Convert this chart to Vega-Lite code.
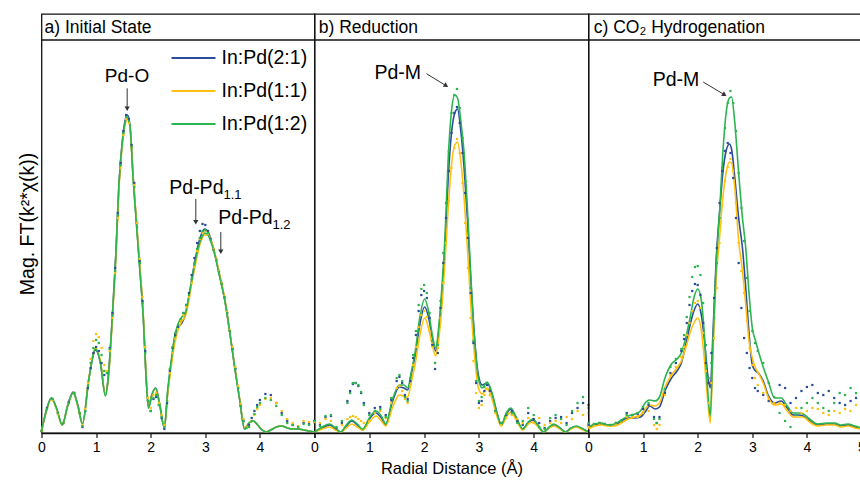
{
  "$schema": "https://vega.github.io/schema/vega-lite/v6.json",
  "padding": {"left": 16.5, "top": 13, "right": 0, "bottom": 0},
  "spacing": 0,
  "bounds": "flush",
  "config": {
    "font": "Liberation Sans",
    "view": {"stroke": "#111111", "strokeWidth": 1.3},
    "axis": {"grid": false, "domainColor": "#111111", "domainWidth": 1.3, "tickColor": "#111111", "tickWidth": 1.2, "labelColor": "#000000", "titleColor": "#000000", "titleFontWeight": "normal", "labelFont": "Liberation Sans", "titleFont": "Liberation Sans"},
    "text": {"font": "Liberation Sans", "color": "#000000"},
    "legend": {"padding": 0}
  },
  "resolve": {"scale": {"color": "independent"}, "legend": {"color": "independent"}},
  "datasets": {
    "a_fit": [
      {"r":0,"p21":0.02,"p11":0.02,"p12":0.02},
      {"r":0.09,"p21":0.23,"p11":0.22,"p12":0.22},
      {"r":0.18,"p21":0.35,"p11":0.34,"p12":0.35},
      {"r":0.28,"p21":0.24,"p11":0.23,"p12":0.24},
      {"r":0.38,"p21":0.08,"p11":0.08,"p12":0.08},
      {"r":0.48,"p21":0.28,"p11":0.27,"p12":0.27},
      {"r":0.58,"p21":0.41,"p11":0.4,"p12":0.4},
      {"r":0.67,"p21":0.27,"p11":0.26,"p12":0.26},
      {"r":0.75,"p21":0.09,"p11":0.09,"p12":0.09},
      {"r":0.87,"p21":0.55,"p11":0.56,"p12":0.55},
      {"r":0.99,"p21":0.83,"p11":0.85,"p12":0.84},
      {"r":1.08,"p21":0.7,"p11":0.72,"p12":0.7},
      {"r":1.17,"p21":0.38,"p11":0.38,"p12":0.37},
      {"r":1.22,"p21":0.55,"p11":0.52,"p12":0.53},
      {"r":1.3,"p21":1.19,"p11":1.15,"p12":1.19},
      {"r":1.36,"p21":1.78,"p11":1.72,"p12":1.75},
      {"r":1.42,"p21":2.5,"p11":2.45,"p12":2.5},
      {"r":1.48,"p21":2.92,"p11":2.88,"p12":2.9},
      {"r":1.53,"p21":3.12,"p11":3.08,"p12":3.1},
      {"r":1.575,"p21":3.18,"p11":3.14,"p12":3.16},
      {"r":1.62,"p21":3.08,"p11":3.06,"p12":3.07},
      {"r":1.68,"p21":2.55,"p11":2.55,"p12":2.52},
      {"r":1.74,"p21":2.1,"p11":2.12,"p12":2.08},
      {"r":1.8,"p21":1.65,"p11":1.68,"p12":1.63},
      {"r":1.86,"p21":1.2,"p11":1.22,"p12":1.19},
      {"r":1.92,"p21":0.52,"p11":0.55,"p12":0.52},
      {"r":1.96,"p21":0.25,"p11":0.27,"p12":0.25},
      {"r":2.02,"p21":0.38,"p11":0.38,"p12":0.38},
      {"r":2.09,"p21":0.45,"p11":0.44,"p12":0.45},
      {"r":2.16,"p21":0.3,"p11":0.3,"p12":0.3},
      {"r":2.25,"p21":0.05,"p11":0.06,"p12":0.05},
      {"r":2.31,"p21":0.4,"p11":0.38,"p12":0.42},
      {"r":2.38,"p21":0.72,"p11":0.68,"p12":0.74},
      {"r":2.44,"p21":0.95,"p11":0.9,"p12":0.97},
      {"r":2.5,"p21":1.05,"p11":1.03,"p12":1.09},
      {"r":2.57,"p21":1.1,"p11":1.12,"p12":1.16},
      {"r":2.63,"p21":1.17,"p11":1.16,"p12":1.19},
      {"r":2.69,"p21":1.33,"p11":1.3,"p12":1.34},
      {"r":2.75,"p21":1.53,"p11":1.49,"p12":1.52},
      {"r":2.81,"p21":1.72,"p11":1.66,"p12":1.7},
      {"r":2.87,"p21":1.88,"p11":1.82,"p12":1.85},
      {"r":2.93,"p21":1.99,"p11":1.93,"p12":1.95},
      {"r":2.99,"p21":2.04,"p11":1.98,"p12":2.0},
      {"r":3.05,"p21":2.01,"p11":1.98,"p12":1.98},
      {"r":3.11,"p21":1.92,"p11":1.92,"p12":1.9},
      {"r":3.17,"p21":1.8,"p11":1.81,"p12":1.79},
      {"r":3.26,"p21":1.58,"p11":1.59,"p12":1.57},
      {"r":3.36,"p21":1.32,"p11":1.33,"p12":1.32},
      {"r":3.45,"p21":1.0,"p11":1.0,"p12":1.0},
      {"r":3.54,"p21":0.65,"p11":0.66,"p12":0.65},
      {"r":3.63,"p21":0.33,"p11":0.34,"p12":0.33},
      {"r":3.72,"p21":0.04,"p11":0.05,"p12":0.04},
      {"r":3.8,"p21":0.1,"p11":0.1,"p12":0.1},
      {"r":3.88,"p21":0.12,"p11":0.12,"p12":0.12},
      {"r":3.96,"p21":0.08,"p11":0.08,"p12":0.08},
      {"r":4.04,"p21":0.03,"p11":0.03,"p12":0.03},
      {"r":4.12,"p21":0.01,"p11":0.01,"p12":0.01},
      {"r":4.2,"p21":0.03,"p11":0.03,"p12":0.03},
      {"r":4.3,"p21":0.06,"p11":0.06,"p12":0.06},
      {"r":4.4,"p21":0.07,"p11":0.07,"p12":0.07},
      {"r":4.5,"p21":0.05,"p11":0.05,"p12":0.05},
      {"r":4.6,"p21":0.04,"p11":0.04,"p12":0.04},
      {"r":4.7,"p21":0.04,"p11":0.04,"p12":0.04},
      {"r":4.8,"p21":0.03,"p11":0.03,"p12":0.03},
      {"r":4.9,"p21":0.02,"p11":0.02,"p12":0.02},
      {"r":5.0,"p21":0.01,"p11":0.01,"p12":0.01}
    ],
    "a_pts": [
      {"r":0,"p21":0.02,"p11":0.02,"p12":0.02},
      {"r":0.1,"p21":0.25,"p11":0.24,"p12":0.24},
      {"r":0.2,"p21":0.34,"p11":0.33,"p12":0.34},
      {"r":0.3,"p21":0.2,"p11":0.19,"p12":0.2},
      {"r":0.4,"p21":0.1,"p11":0.1,"p12":0.1},
      {"r":0.5,"p21":0.31,"p11":0.3,"p12":0.3},
      {"r":0.6,"p21":0.4,"p11":0.4,"p12":0.4},
      {"r":0.7,"p21":0.2,"p11":0.2,"p12":0.2},
      {"r":0.75,"p21":0.06,"p11":0.08,"p12":0.07},
      {"r":0.8,"p21":0.22,"p11":0.24,"p12":0.22},
      {"r":0.85,"p21":0.45,"p11":0.5,"p12":0.47},
      {"r":0.9,"p21":0.65,"p11":0.74,"p12":0.7},
      {"r":0.95,"p21":0.8,"p11":0.92,"p12":0.85},
      {"r":1.0,"p21":0.86,"p11":0.99,"p12":0.93},
      {"r":1.05,"p21":0.82,"p11":0.96,"p12":0.9},
      {"r":1.1,"p21":0.7,"p11":0.85,"p12":0.78},
      {"r":1.15,"p21":0.58,"p11":0.68,"p12":0.62},
      {"r":1.2,"p21":0.6,"p11":0.62,"p12":0.6},
      {"r":1.25,"p21":0.85,"p11":0.82,"p12":0.84},
      {"r":1.3,"p21":1.2,"p11":1.15,"p12":1.18},
      {"r":1.35,"p21":1.65,"p11":1.6,"p12":1.62},
      {"r":1.4,"p21":2.2,"p11":2.15,"p12":2.18},
      {"r":1.45,"p21":2.7,"p11":2.65,"p12":2.68},
      {"r":1.5,"p21":3.02,"p11":2.98,"p12":3.0},
      {"r":1.55,"p21":3.18,"p11":3.14,"p12":3.16},
      {"r":1.6,"p21":3.14,"p11":3.1,"p12":3.12},
      {"r":1.65,"p21":2.88,"p11":2.86,"p12":2.86},
      {"r":1.7,"p21":2.5,"p11":2.48,"p12":2.46},
      {"r":1.75,"p21":2.1,"p11":2.1,"p12":2.06},
      {"r":1.8,"p21":1.72,"p11":1.74,"p12":1.7},
      {"r":1.85,"p21":1.32,"p11":1.36,"p12":1.3},
      {"r":1.9,"p21":0.82,"p11":0.86,"p12":0.8},
      {"r":1.95,"p21":0.32,"p11":0.35,"p12":0.32},
      {"r":2.0,"p21":0.22,"p11":0.25,"p12":0.22},
      {"r":2.05,"p21":0.34,"p11":0.38,"p12":0.35},
      {"r":2.1,"p21":0.36,"p11":0.4,"p12":0.38},
      {"r":2.15,"p21":0.28,"p11":0.3,"p12":0.28},
      {"r":2.2,"p21":0.15,"p11":0.18,"p12":0.16},
      {"r":2.25,"p21":0.04,"p11":0.08,"p12":0.06},
      {"r":2.3,"p21":0.3,"p11":0.32,"p12":0.32},
      {"r":2.35,"p21":0.62,"p11":0.6,"p12":0.64},
      {"r":2.4,"p21":0.85,"p11":0.8,"p12":0.86},
      {"r":2.45,"p21":0.98,"p11":0.94,"p12":1.0},
      {"r":2.5,"p21":1.06,"p11":1.04,"p12":1.08},
      {"r":2.55,"p21":1.12,"p11":1.12,"p12":1.14},
      {"r":2.6,"p21":1.2,"p11":1.18,"p12":1.2},
      {"r":2.65,"p21":1.28,"p11":1.26,"p12":1.28},
      {"r":2.7,"p21":1.4,"p11":1.36,"p12":1.38},
      {"r":2.75,"p21":1.58,"p11":1.5,"p12":1.54},
      {"r":2.8,"p21":1.75,"p11":1.66,"p12":1.7},
      {"r":2.85,"p21":1.9,"p11":1.82,"p12":1.84},
      {"r":2.9,"p21":2.02,"p11":1.94,"p12":1.95},
      {"r":2.95,"p21":2.09,"p11":2.0,"p12":2.02},
      {"r":3.0,"p21":2.08,"p11":2.02,"p12":2.03},
      {"r":3.05,"p21":2.02,"p11":1.99,"p12":2.0},
      {"r":3.1,"p21":1.94,"p11":1.93,"p12":1.93},
      {"r":3.15,"p21":1.84,"p11":1.84,"p12":1.83},
      {"r":3.2,"p21":1.74,"p11":1.74,"p12":1.73},
      {"r":3.25,"p21":1.62,"p11":1.62,"p12":1.61},
      {"r":3.3,"p21":1.5,"p11":1.5,"p12":1.49},
      {"r":3.35,"p21":1.36,"p11":1.37,"p12":1.36},
      {"r":3.4,"p21":1.2,"p11":1.21,"p12":1.2},
      {"r":3.45,"p21":1.02,"p11":1.03,"p12":1.02},
      {"r":3.5,"p21":0.84,"p11":0.86,"p12":0.84},
      {"r":3.55,"p21":0.64,"p11":0.66,"p12":0.64},
      {"r":3.6,"p21":0.45,"p11":0.47,"p12":0.45},
      {"r":3.65,"p21":0.27,"p11":0.29,"p12":0.27},
      {"r":3.7,"p21":0.12,"p11":0.14,"p12":0.12},
      {"r":3.75,"p21":0.05,"p11":0.06,"p12":0.05},
      {"r":3.8,"p21":0.08,"p11":0.06,"p12":0.06},
      {"r":3.85,"p21":0.15,"p11":0.12,"p12":0.12},
      {"r":3.9,"p21":0.22,"p11":0.18,"p12":0.19},
      {"r":3.95,"p21":0.28,"p11":0.24,"p12":0.26},
      {"r":4.0,"p21":0.33,"p11":0.28,"p12":0.3},
      {"r":4.1,"p21":0.39,"p11":0.34,"p12":0.35},
      {"r":4.2,"p21":0.38,"p11":0.35,"p12":0.33},
      {"r":4.3,"p21":0.3,"p11":0.3,"p12":0.27},
      {"r":4.4,"p21":0.2,"p11":0.22,"p12":0.18},
      {"r":4.5,"p21":0.12,"p11":0.14,"p12":0.1},
      {"r":4.6,"p21":0.08,"p11":0.1,"p12":0.08},
      {"r":4.7,"p21":0.06,"p11":0.07,"p12":0.06},
      {"r":4.8,"p21":0.1,"p11":0.12,"p12":0.09},
      {"r":4.9,"p21":0.09,"p11":0.11,"p12":0.08},
      {"r":5.0,"p21":0.12,"p11":0.1,"p12":0.11}
    ],
    "b_fit": [
      {"r":0,"p21":0.01,"p11":0.01,"p12":0.01},
      {"r":0.14,"p21":0.05,"p11":0.04,"p12":0.06},
      {"r":0.28,"p21":0.08,"p11":0.06,"p12":0.09},
      {"r":0.38,"p21":0.04,"p11":0.03,"p12":0.05},
      {"r":0.48,"p21":0.01,"p11":0.01,"p12":0.01},
      {"r":0.58,"p21":0.07,"p11":0.05,"p12":0.08},
      {"r":0.68,"p21":0.12,"p11":0.09,"p12":0.13},
      {"r":0.78,"p21":0.08,"p11":0.06,"p12":0.09},
      {"r":0.88,"p21":0.03,"p11":0.03,"p12":0.04},
      {"r":1.0,"p21":0.14,"p11":0.11,"p12":0.15},
      {"r":1.12,"p21":0.2,"p11":0.17,"p12":0.22},
      {"r":1.22,"p21":0.15,"p11":0.12,"p12":0.17},
      {"r":1.3,"p21":0.08,"p11":0.07,"p12":0.09},
      {"r":1.42,"p21":0.31,"p11":0.25,"p12":0.33},
      {"r":1.55,"p21":0.46,"p11":0.38,"p12":0.48},
      {"r":1.63,"p21":0.45,"p11":0.37,"p12":0.48},
      {"r":1.7,"p21":0.43,"p11":0.36,"p12":0.45},
      {"r":1.77,"p21":0.6,"p11":0.52,"p12":0.62},
      {"r":1.84,"p21":0.78,"p11":0.7,"p12":0.82},
      {"r":1.92,"p21":1.08,"p11":0.97,"p12":1.15},
      {"r":2.01,"p21":1.26,"p11":1.15,"p12":1.34},
      {"r":2.08,"p21":1.16,"p11":1.05,"p12":1.22},
      {"r":2.15,"p21":0.95,"p11":0.88,"p12":0.98},
      {"r":2.21,"p21":0.82,"p11":0.77,"p12":0.85},
      {"r":2.27,"p21":1.02,"p11":0.95,"p12":1.08},
      {"r":2.33,"p21":1.42,"p11":1.3,"p12":1.5},
      {"r":2.38,"p21":1.85,"p11":1.7,"p12":1.95},
      {"r":2.44,"p21":2.55,"p11":2.25,"p12":2.75},
      {"r":2.5,"p21":3.0,"p11":2.68,"p12":3.22},
      {"r":2.56,"p21":3.2,"p11":2.88,"p12":3.38},
      {"r":2.61,"p21":3.24,"p11":2.91,"p12":3.35},
      {"r":2.67,"p21":3.02,"p11":2.72,"p12":3.12},
      {"r":2.73,"p21":2.65,"p11":2.35,"p12":2.8},
      {"r":2.79,"p21":2.15,"p11":1.85,"p12":2.25},
      {"r":2.85,"p21":1.55,"p11":1.3,"p12":1.6},
      {"r":2.92,"p21":0.95,"p11":0.78,"p12":0.95},
      {"r":2.99,"p21":0.58,"p11":0.45,"p12":0.55},
      {"r":3.06,"p21":0.48,"p11":0.39,"p12":0.45},
      {"r":3.15,"p21":0.5,"p11":0.45,"p12":0.51},
      {"r":3.25,"p21":0.37,"p11":0.32,"p12":0.38},
      {"r":3.33,"p21":0.2,"p11":0.17,"p12":0.2},
      {"r":3.41,"p21":0.08,"p11":0.07,"p12":0.08},
      {"r":3.5,"p21":0.19,"p11":0.16,"p12":0.2},
      {"r":3.58,"p21":0.24,"p11":0.21,"p12":0.25},
      {"r":3.68,"p21":0.15,"p11":0.13,"p12":0.16},
      {"r":3.8,"p21":0.04,"p11":0.03,"p12":0.04},
      {"r":3.9,"p21":0.1,"p11":0.09,"p12":0.11},
      {"r":3.98,"p21":0.13,"p11":0.11,"p12":0.14},
      {"r":4.08,"p21":0.07,"p11":0.06,"p12":0.08},
      {"r":4.18,"p21":0.01,"p11":0.01,"p12":0.01},
      {"r":4.28,"p21":0.05,"p11":0.05,"p12":0.06},
      {"r":4.37,"p21":0.08,"p11":0.07,"p12":0.09},
      {"r":4.48,"p21":0.05,"p11":0.04,"p12":0.05},
      {"r":4.58,"p21":0.01,"p11":0.01,"p12":0.01},
      {"r":4.68,"p21":0.05,"p11":0.04,"p12":0.05},
      {"r":4.78,"p21":0.06,"p11":0.06,"p12":0.07},
      {"r":4.9,"p21":0.04,"p11":0.03,"p12":0.04},
      {"r":5.0,"p21":0.01,"p11":0.01,"p12":0.01}
    ],
    "b_pts": [
      {"r":0,"p21":0.12,"p11":0.11,"p12":0.12},
      {"r":0.1,"p21":0.08,"p11":0.1,"p12":0.07},
      {"r":0.2,"p21":0.16,"p11":0.14,"p12":0.17},
      {"r":0.3,"p21":0.17,"p11":0.12,"p12":0.18},
      {"r":0.4,"p21":0.05,"p11":0.06,"p12":0.06},
      {"r":0.5,"p21":0.1,"p11":0.08,"p12":0.12},
      {"r":0.6,"p21":0.32,"p11":0.14,"p12":0.3},
      {"r":0.65,"p21":0.42,"p11":0.16,"p12":0.4},
      {"r":0.7,"p21":0.49,"p11":0.17,"p12":0.5},
      {"r":0.75,"p21":0.5,"p11":0.16,"p12":0.5},
      {"r":0.8,"p21":0.47,"p11":0.14,"p12":0.48},
      {"r":0.85,"p21":0.4,"p11":0.12,"p12":0.41},
      {"r":0.9,"p21":0.3,"p11":0.1,"p12":0.28},
      {"r":1.0,"p21":0.2,"p11":0.12,"p12":0.18},
      {"r":1.1,"p21":0.25,"p11":0.2,"p12":0.22},
      {"r":1.2,"p21":0.26,"p11":0.22,"p12":0.24},
      {"r":1.3,"p21":0.18,"p11":0.15,"p12":0.16},
      {"r":1.4,"p21":0.33,"p11":0.3,"p12":0.35},
      {"r":1.5,"p21":0.52,"p11":0.45,"p12":0.55},
      {"r":1.55,"p21":0.56,"p11":0.47,"p12":0.58},
      {"r":1.6,"p21":0.5,"p11":0.42,"p12":0.52},
      {"r":1.65,"p21":0.38,"p11":0.34,"p12":0.36},
      {"r":1.7,"p21":0.34,"p11":0.3,"p12":0.32},
      {"r":1.75,"p21":0.52,"p11":0.48,"p12":0.55},
      {"r":1.8,"p21":0.75,"p11":0.68,"p12":0.78},
      {"r":1.85,"p21":0.98,"p11":0.86,"p12":1.02},
      {"r":1.9,"p21":1.22,"p11":1.06,"p12":1.28},
      {"r":1.95,"p21":1.38,"p11":1.18,"p12":1.44},
      {"r":2.0,"p21":1.42,"p11":1.22,"p12":1.48},
      {"r":2.05,"p21":1.35,"p11":1.16,"p12":1.4},
      {"r":2.1,"p21":1.15,"p11":1.02,"p12":1.2},
      {"r":2.15,"p21":0.88,"p11":0.86,"p12":0.92},
      {"r":2.2,"p21":0.64,"p11":0.7,"p12":0.7},
      {"r":2.25,"p21":0.8,"p11":0.85,"p12":0.88},
      {"r":2.3,"p21":1.25,"p11":1.15,"p12":1.32},
      {"r":2.35,"p21":1.7,"p11":1.5,"p12":1.8},
      {"r":2.4,"p21":2.15,"p11":1.9,"p12":2.3},
      {"r":2.45,"p21":2.62,"p11":2.32,"p12":2.82},
      {"r":2.5,"p21":3.0,"p11":2.65,"p12":3.2},
      {"r":2.55,"p21":3.2,"p11":2.85,"p12":3.38},
      {"r":2.6,"p21":3.26,"p11":2.94,"p12":3.44},
      {"r":2.65,"p21":3.1,"p11":2.8,"p12":3.25},
      {"r":2.7,"p21":2.8,"p11":2.5,"p12":2.95},
      {"r":2.75,"p21":2.4,"p11":2.1,"p12":2.52},
      {"r":2.8,"p21":1.95,"p11":1.65,"p12":2.02},
      {"r":2.85,"p21":1.4,"p11":1.15,"p12":1.45},
      {"r":2.9,"p21":0.9,"p11":0.72,"p12":0.92},
      {"r":2.95,"p21":0.5,"p11":0.4,"p12":0.52},
      {"r":3.0,"p21":0.3,"p11":0.25,"p12":0.32},
      {"r":3.05,"p21":0.32,"p11":0.28,"p12":0.36},
      {"r":3.1,"p21":0.42,"p11":0.38,"p12":0.46},
      {"r":3.15,"p21":0.48,"p11":0.44,"p12":0.5},
      {"r":3.2,"p21":0.42,"p11":0.38,"p12":0.44},
      {"r":3.3,"p21":0.22,"p11":0.2,"p12":0.22},
      {"r":3.4,"p21":0.1,"p11":0.08,"p12":0.1},
      {"r":3.5,"p21":0.18,"p11":0.15,"p12":0.19},
      {"r":3.6,"p21":0.22,"p11":0.18,"p12":0.2},
      {"r":3.7,"p21":0.12,"p11":0.14,"p12":0.1},
      {"r":3.8,"p21":0.08,"p11":0.1,"p12":0.12},
      {"r":3.9,"p21":0.2,"p11":0.15,"p12":0.25},
      {"r":4.0,"p21":0.14,"p11":0.1,"p12":0.18},
      {"r":4.1,"p21":0.1,"p11":0.15,"p12":0.06},
      {"r":4.2,"p21":0.05,"p11":0.08,"p12":0.04},
      {"r":4.3,"p21":0.12,"p11":0.1,"p12":0.15},
      {"r":4.4,"p21":0.15,"p11":0.12,"p12":0.18},
      {"r":4.5,"p21":0.16,"p11":0.1,"p12":0.14},
      {"r":4.6,"p21":0.1,"p11":0.16,"p12":0.08},
      {"r":4.7,"p21":0.2,"p11":0.14,"p12":0.22},
      {"r":4.8,"p21":0.25,"p11":0.22,"p12":0.3},
      {"r":4.9,"p21":0.3,"p11":0.18,"p12":0.36},
      {"r":5.0,"p21":0.28,"p11":0.2,"p12":0.25}
    ],
    "c_fit": [
      {"r":0,"p21":0.05,"p11":0.04,"p12":0.06},
      {"r":0.12,"p21":0.08,"p11":0.07,"p12":0.09},
      {"r":0.24,"p21":0.09,"p11":0.08,"p12":0.1},
      {"r":0.36,"p21":0.08,"p11":0.07,"p12":0.08},
      {"r":0.48,"p21":0.08,"p11":0.07,"p12":0.09},
      {"r":0.6,"p21":0.12,"p11":0.1,"p12":0.13},
      {"r":0.73,"p21":0.15,"p11":0.14,"p12":0.17},
      {"r":0.85,"p21":0.15,"p11":0.16,"p12":0.19},
      {"r":0.95,"p21":0.16,"p11":0.18,"p12":0.22},
      {"r":1.05,"p21":0.22,"p11":0.25,"p12":0.31},
      {"r":1.12,"p21":0.27,"p11":0.28,"p12":0.33},
      {"r":1.22,"p21":0.24,"p11":0.27,"p12":0.32},
      {"r":1.3,"p21":0.26,"p11":0.3,"p12":0.36},
      {"r":1.4,"p21":0.42,"p11":0.46,"p12":0.55},
      {"r":1.52,"p21":0.55,"p11":0.58,"p12":0.69},
      {"r":1.62,"p21":0.62,"p11":0.65,"p12":0.74},
      {"r":1.7,"p21":0.7,"p11":0.72,"p12":0.8},
      {"r":1.78,"p21":0.88,"p11":0.85,"p12":0.95},
      {"r":1.86,"p21":1.08,"p11":1.0,"p12":1.15},
      {"r":1.93,"p21":1.22,"p11":1.1,"p12":1.35},
      {"r":2.0,"p21":1.29,"p11":1.15,"p12":1.44},
      {"r":2.06,"p21":1.2,"p11":1.05,"p12":1.35},
      {"r":2.12,"p21":0.95,"p11":0.75,"p12":1.0},
      {"r":2.18,"p21":0.6,"p11":0.35,"p12":0.45},
      {"r":2.23,"p21":0.45,"p11":0.1,"p12":0.17},
      {"r":2.28,"p21":1.0,"p11":0.8,"p12":0.9},
      {"r":2.34,"p21":1.75,"p11":1.55,"p12":1.7},
      {"r":2.4,"p21":2.2,"p11":1.95,"p12":2.2},
      {"r":2.46,"p21":2.6,"p11":2.35,"p12":2.8},
      {"r":2.52,"p21":2.82,"p11":2.6,"p12":3.2},
      {"r":2.58,"p21":2.89,"p11":2.71,"p12":3.35},
      {"r":2.62,"p21":2.84,"p11":2.7,"p12":3.36},
      {"r":2.68,"p21":2.55,"p11":2.45,"p12":3.1},
      {"r":2.75,"p21":2.15,"p11":1.92,"p12":2.6},
      {"r":2.82,"p21":1.85,"p11":1.62,"p12":2.15},
      {"r":2.88,"p21":1.45,"p11":1.28,"p12":1.85},
      {"r":2.94,"p21":1.0,"p11":0.92,"p12":1.4},
      {"r":3.0,"p21":0.68,"p11":0.75,"p12":1.05},
      {"r":3.06,"p21":0.62,"p11":0.65,"p12":0.92},
      {"r":3.11,"p21":0.6,"p11":0.6,"p12":0.82},
      {"r":3.2,"p21":0.52,"p11":0.5,"p12":0.66},
      {"r":3.29,"p21":0.38,"p11":0.36,"p12":0.52},
      {"r":3.41,"p21":0.3,"p11":0.28,"p12":0.35},
      {"r":3.53,"p21":0.32,"p11":0.29,"p12":0.35},
      {"r":3.64,"p21":0.25,"p11":0.22,"p12":0.27},
      {"r":3.75,"p21":0.18,"p11":0.16,"p12":0.2},
      {"r":3.84,"p21":0.18,"p11":0.16,"p12":0.2},
      {"r":3.93,"p21":0.17,"p11":0.16,"p12":0.19},
      {"r":4.05,"p21":0.12,"p11":0.11,"p12":0.14},
      {"r":4.2,"p21":0.08,"p11":0.07,"p12":0.09},
      {"r":4.35,"p21":0.09,"p11":0.08,"p12":0.1},
      {"r":4.51,"p21":0.09,"p11":0.08,"p12":0.1},
      {"r":4.62,"p21":0.07,"p11":0.06,"p12":0.08},
      {"r":4.75,"p21":0.08,"p11":0.07,"p12":0.09},
      {"r":4.88,"p21":0.06,"p11":0.05,"p12":0.07},
      {"r":5.0,"p21":0.04,"p11":0.04,"p12":0.05}
    ],
    "c_pts": [
      {"r":0,"p21":0.08,"p11":0.06,"p12":0.1},
      {"r":0.1,"p21":0.09,"p11":0.08,"p12":0.09},
      {"r":0.2,"p21":0.1,"p11":0.09,"p12":0.1},
      {"r":0.3,"p21":0.09,"p11":0.08,"p12":0.09},
      {"r":0.4,"p21":0.08,"p11":0.07,"p12":0.08},
      {"r":0.5,"p21":0.1,"p11":0.09,"p12":0.1},
      {"r":0.6,"p21":0.12,"p11":0.11,"p12":0.12},
      {"r":0.7,"p21":0.2,"p11":0.16,"p12":0.18},
      {"r":0.8,"p21":0.18,"p11":0.16,"p12":0.18},
      {"r":0.9,"p21":0.19,"p11":0.16,"p12":0.2},
      {"r":1.0,"p21":0.24,"p11":0.2,"p12":0.26},
      {"r":1.1,"p21":0.28,"p11":0.22,"p12":0.3},
      {"r":1.2,"p21":0.16,"p11":0.08,"p12":0.14},
      {"r":1.25,"p21":0.1,"p11":0.04,"p12":0.1},
      {"r":1.3,"p21":0.16,"p11":0.08,"p12":0.14},
      {"r":1.4,"p21":0.4,"p11":0.38,"p12":0.44},
      {"r":1.5,"p21":0.6,"p11":0.58,"p12":0.66},
      {"r":1.6,"p21":0.7,"p11":0.66,"p12":0.74},
      {"r":1.7,"p21":0.82,"p11":0.76,"p12":0.84},
      {"r":1.75,"p21":0.94,"p11":0.86,"p12":0.98},
      {"r":1.8,"p21":1.1,"p11":0.98,"p12":1.16},
      {"r":1.85,"p21":1.28,"p11":1.1,"p12":1.36},
      {"r":1.9,"p21":1.42,"p11":1.22,"p12":1.56},
      {"r":1.95,"p21":1.49,"p11":1.3,"p12":1.66},
      {"r":2.0,"p21":1.48,"p11":1.32,"p12":1.67},
      {"r":2.05,"p21":1.38,"p11":1.25,"p12":1.58},
      {"r":2.1,"p21":1.1,"p11":1.0,"p12":1.3},
      {"r":2.15,"p21":0.7,"p11":0.62,"p12":0.88},
      {"r":2.2,"p21":0.5,"p11":0.3,"p12":0.55},
      {"r":2.25,"p21":0.8,"p11":0.5,"p12":0.7},
      {"r":2.3,"p21":1.35,"p11":0.95,"p12":1.15},
      {"r":2.35,"p21":1.85,"p11":1.45,"p12":1.7},
      {"r":2.4,"p21":2.3,"p11":1.9,"p12":2.15},
      {"r":2.45,"p21":2.62,"p11":2.28,"p12":2.65},
      {"r":2.5,"p21":2.82,"p11":2.52,"p12":3.05},
      {"r":2.55,"p21":2.9,"p11":2.66,"p12":3.3},
      {"r":2.6,"p21":2.8,"p11":2.74,"p12":3.42},
      {"r":2.65,"p21":2.55,"p11":2.62,"p12":3.3},
      {"r":2.7,"p21":2.15,"p11":2.3,"p12":3.02},
      {"r":2.75,"p21":1.7,"p11":1.9,"p12":2.6},
      {"r":2.8,"p21":1.25,"p11":1.62,"p12":2.25},
      {"r":2.85,"p21":0.95,"p11":1.4,"p12":1.92},
      {"r":2.9,"p21":0.8,"p11":1.12,"p12":1.55},
      {"r":2.95,"p21":0.65,"p11":0.85,"p12":1.22},
      {"r":3.0,"p21":0.55,"p11":0.68,"p12":1.02},
      {"r":3.05,"p21":0.45,"p11":0.55,"p12":0.9},
      {"r":3.1,"p21":0.42,"p11":0.48,"p12":0.82},
      {"r":3.2,"p21":0.38,"p11":0.4,"p12":0.7},
      {"r":3.3,"p21":0.32,"p11":0.34,"p12":0.5},
      {"r":3.4,"p21":0.3,"p11":0.3,"p12":0.36},
      {"r":3.5,"p21":0.48,"p11":0.3,"p12":0.2},
      {"r":3.6,"p21":0.45,"p11":0.28,"p12":0.12},
      {"r":3.7,"p21":0.3,"p11":0.22,"p12":0.06},
      {"r":3.8,"p21":0.35,"p11":0.25,"p12":0.18},
      {"r":3.9,"p21":0.42,"p11":0.2,"p12":0.25},
      {"r":4.0,"p21":0.46,"p11":0.22,"p12":0.3},
      {"r":4.1,"p21":0.48,"p11":0.25,"p12":0.35},
      {"r":4.2,"p21":0.4,"p11":0.24,"p12":0.3},
      {"r":4.3,"p21":0.38,"p11":0.2,"p12":0.25},
      {"r":4.4,"p21":0.42,"p11":0.18,"p12":0.22},
      {"r":4.5,"p21":0.35,"p11":0.22,"p12":0.3},
      {"r":4.6,"p21":0.3,"p11":0.2,"p12":0.4},
      {"r":4.7,"p21":0.28,"p11":0.24,"p12":0.38},
      {"r":4.8,"p21":0.32,"p11":0.22,"p12":0.45},
      {"r":4.9,"p21":0.35,"p11":0.28,"p12":0.4},
      {"r":5.0,"p21":0.3,"p11":0.25,"p12":0.42}
    ]
  },
  "hconcat": [
    {
      "width": 273,
      "height": 419,
      "layer": [
        {
          "data": {"name": "a_fit"},
          "transform": [{"fold": ["p21", "p11", "p12"], "as": ["sample", "mag"]}],
          "mark": {"type": "line", "interpolate": "monotone", "strokeWidth": 1.6},
          "encoding": {
            "x": {"field": "r", "type": "quantitative", "scale": {"domain": [0, 5], "nice": false, "zero": false},
              "axis": {"title": null, "values": [0, 0.5, 1, 1.5, 2, 2.5, 3, 3.5, 4, 4.5, 5], "labelExpr": "datum.value % 1 === 0 && datum.value < 5 ? datum.label : ''", "labelFontSize": 14, "labelPadding": 3, "labelOverlap": false, "labelFlush": false, "tickSize": {"condition": {"test": "datum.value % 1 !== 0", "value": 2.5}, "value": 4.5}}},
            "y": {"field": "mag", "type": "quantitative", "scale": {"domain": [0, 4.19], "nice": false},
              "axis": {"title": "Mag. FT(k²*χ(k))", "labels": false, "ticks": false, "domain": false, "titleFontSize": 19.5, "titlePadding": 4}},
            "color": {"field": "sample", "type": "nominal",
              "scale": {"domain": ["p21", "p11", "p12"], "range": ["#2B4C9B", "#FFC10E", "#2BB54F"]},
              "legend": {"orient": "none", "legendX": 129, "legendY": 21, "title": null, "symbolType": "stroke", "symbolSize": 1936, "symbolStrokeWidth": 2, "labelFontSize": 19.5, "labelOffset": 5, "rowPadding": -21, "labelColor": "#000000", "labelExpr": "datum.label == 'p21' ? 'In:Pd(2:1)' : datum.label == 'p11' ? 'In:Pd(1:1)' : 'In:Pd(1:2)'"}}
          }
        },
        {
          "data": {"name": "a_pts"},
          "transform": [{"fold": ["p21", "p11", "p12"], "as": ["sample", "mag"]}],
          "mark": {"type": "point", "shape": "square", "filled": true, "size": 5, "opacity": 1},
          "encoding": {
            "x": {"field": "r", "type": "quantitative"},
            "y": {"field": "mag", "type": "quantitative"},
            "color": {"field": "sample", "type": "nominal", "legend": null}
          }
        },
        {"data": {"values": [{}]}, "mark": {"type": "rule", "color": "#111111", "strokeWidth": 1.3}, "encoding": {"y": {"datum": 3.93}}},
        {"data": {"values": [{}]}, "mark": {"type": "text", "align": "left", "baseline": "alphabetic", "fontSize": 17.5}, "encoding": {"x": {"datum": 0.055}, "y": {"datum": 4.003}, "text": {"value": "a) Initial State"}}},
        {"data": {"values": [{}]}, "mark": {"type": "text", "align": "center", "baseline": "alphabetic", "fontSize": 19}, "encoding": {"x": {"datum": 1.566}, "y": {"datum": 3.51}, "text": {"value": "Pd-O"}}},
        {"data": {"values": [{}]}, "mark": {"type": "rule", "color": "#333333", "strokeWidth": 1}, "encoding": {"x": {"datum": 1.569}, "y": {"datum": 3.447}, "y2": {"datum": 3.26}}},
        {"data": {"values": [{}]}, "mark": {"type": "point", "shape": "triangle-down", "filled": true, "size": 28, "color": "#333333", "opacity": 1}, "encoding": {"x": {"datum": 1.569}, "y": {"datum": 3.243}}},
        {"data": {"values": [{}]}, "mark": {"type": "text", "align": "right", "baseline": "alphabetic", "fontSize": 19.5}, "encoding": {"x": {"datum": 3.333}, "y": {"datum": 2.39}, "text": {"value": "Pd-Pd"}}},
        {"data": {"values": [{}]}, "mark": {"type": "text", "align": "left", "baseline": "alphabetic", "fontSize": 13}, "encoding": {"x": {"datum": 3.333}, "y": {"datum": 2.34}, "text": {"value": "1.1"}}},
        {"data": {"values": [{}]}, "mark": {"type": "rule", "color": "#333333", "strokeWidth": 1}, "encoding": {"x": {"datum": 2.826}, "y": {"datum": 2.34}, "y2": {"datum": 2.12}}},
        {"data": {"values": [{}]}, "mark": {"type": "point", "shape": "triangle-down", "filled": true, "size": 28, "color": "#333333", "opacity": 1}, "encoding": {"x": {"datum": 2.826}, "y": {"datum": 2.108}}},
        {"data": {"values": [{}]}, "mark": {"type": "text", "align": "right", "baseline": "alphabetic", "fontSize": 19.5}, "encoding": {"x": {"datum": 4.231}, "y": {"datum": 2.09}, "text": {"value": "Pd-Pd"}}},
        {"data": {"values": [{}]}, "mark": {"type": "text", "align": "left", "baseline": "alphabetic", "fontSize": 13}, "encoding": {"x": {"datum": 4.231}, "y": {"datum": 2.04}, "text": {"value": "1.2"}}},
        {"data": {"values": [{}]}, "mark": {"type": "rule", "color": "#333333", "strokeWidth": 1}, "encoding": {"x": {"datum": 3.284}, "y": {"datum": 2.01}, "y2": {"datum": 1.83}}},
        {"data": {"values": [{}]}, "mark": {"type": "point", "shape": "triangle-down", "filled": true, "size": 28, "color": "#333333", "opacity": 1}, "encoding": {"x": {"datum": 3.284}, "y": {"datum": 1.813}}}
      ]
    },
    {
      "width": 274,
      "height": 419,
      "layer": [
        {
          "data": {"name": "b_fit"},
          "transform": [{"fold": ["p21", "p11", "p12"], "as": ["sample", "mag"]}],
          "mark": {"type": "line", "interpolate": "monotone", "strokeWidth": 1.6},
          "encoding": {
            "x": {"field": "r", "type": "quantitative", "scale": {"domain": [0, 5], "nice": false, "zero": false},
              "axis": {"title": "Radial Distance (Å)", "titleFontSize": 16.5, "titlePadding": 6, "values": [0, 0.5, 1, 1.5, 2, 2.5, 3, 3.5, 4, 4.5, 5], "labelExpr": "datum.value % 1 === 0 && datum.value < 5 ? datum.label : ''", "labelFontSize": 14, "labelPadding": 3, "labelOverlap": false, "labelFlush": false, "tickSize": {"condition": {"test": "datum.value % 1 !== 0", "value": 2.5}, "value": 4.5}}},
            "y": {"field": "mag", "type": "quantitative", "scale": {"domain": [0, 4.19], "nice": false}, "axis": null},
            "color": {"field": "sample", "type": "nominal", "scale": {"domain": ["p21", "p11", "p12"], "range": ["#2B4C9B", "#FFC10E", "#2BB54F"]}, "legend": null}
          }
        },
        {
          "data": {"name": "b_pts"},
          "transform": [{"fold": ["p21", "p11", "p12"], "as": ["sample", "mag"]}],
          "mark": {"type": "point", "shape": "square", "filled": true, "size": 5, "opacity": 1},
          "encoding": {
            "x": {"field": "r", "type": "quantitative"},
            "y": {"field": "mag", "type": "quantitative"},
            "color": {"field": "sample", "type": "nominal", "legend": null}
          }
        },
        {"data": {"values": [{}]}, "mark": {"type": "rule", "color": "#111111", "strokeWidth": 1.3}, "encoding": {"y": {"datum": 3.93}}},
        {"data": {"values": [{}]}, "mark": {"type": "text", "align": "left", "baseline": "alphabetic", "fontSize": 17.5}, "encoding": {"x": {"datum": 0.078}, "y": {"datum": 4.003}, "text": {"value": "b) Reduction"}}},
        {"data": {"values": [{}]}, "mark": {"type": "text", "align": "center", "baseline": "alphabetic", "fontSize": 19.5}, "encoding": {"x": {"datum": 1.52}, "y": {"datum": 3.537}, "text": {"value": "Pd-M"}}},
        {"data": {"values": [{}]}, "mark": {"type": "rule", "color": "#333333", "strokeWidth": 1}, "encoding": {"x": {"datum": 2.044}, "y": {"datum": 3.593}, "x2": {"datum": 2.403}, "y2": {"datum": 3.472}}},
        {"data": {"values": [{}]}, "mark": {"type": "point", "shape": "triangle-up", "angle": 121.4, "filled": true, "size": 28, "color": "#333333", "opacity": 1}, "encoding": {"x": {"datum": 2.403}, "y": {"datum": 3.472}}}
      ]
    },
    {
      "width": 273,
      "height": 419,
      "layer": [
        {
          "data": {"name": "c_fit"},
          "transform": [{"fold": ["p21", "p11", "p12"], "as": ["sample", "mag"]}],
          "mark": {"type": "line", "interpolate": "monotone", "strokeWidth": 1.6},
          "encoding": {
            "x": {"field": "r", "type": "quantitative", "scale": {"domain": [0, 5], "nice": false, "zero": false},
              "axis": {"title": null, "values": [0, 0.5, 1, 1.5, 2, 2.5, 3, 3.5, 4, 4.5, 5], "labelExpr": "datum.value % 1 === 0 ? datum.label : ''", "labelFontSize": 14, "labelPadding": 3, "labelOverlap": false, "labelFlush": false, "tickSize": {"condition": {"test": "datum.value % 1 !== 0", "value": 2.5}, "value": 4.5}}},
            "y": {"field": "mag", "type": "quantitative", "scale": {"domain": [0, 4.19], "nice": false}, "axis": null},
            "color": {"field": "sample", "type": "nominal", "scale": {"domain": ["p21", "p11", "p12"], "range": ["#2B4C9B", "#FFC10E", "#2BB54F"]}, "legend": null}
          }
        },
        {
          "data": {"name": "c_pts"},
          "transform": [{"fold": ["p21", "p11", "p12"], "as": ["sample", "mag"]}],
          "mark": {"type": "point", "shape": "square", "filled": true, "size": 5, "opacity": 1},
          "encoding": {
            "x": {"field": "r", "type": "quantitative"},
            "y": {"field": "mag", "type": "quantitative"},
            "color": {"field": "sample", "type": "nominal", "legend": null}
          }
        },
        {"data": {"values": [{}]}, "mark": {"type": "rule", "color": "#111111", "strokeWidth": 1.3}, "encoding": {"y": {"datum": 3.93}}},
        {"data": {"values": [{}]}, "mark": {"type": "text", "align": "left", "baseline": "alphabetic", "fontSize": 17.5}, "encoding": {"x": {"datum": 0.097}, "y": {"datum": 4.003}, "text": {"value": "c) CO₂ Hydrogenation"}}},
        {"data": {"values": [{}]}, "mark": {"type": "text", "align": "center", "baseline": "alphabetic", "fontSize": 19.5}, "encoding": {"x": {"datum": 1.603}, "y": {"datum": 3.47}, "text": {"value": "Pd-M"}}},
        {"data": {"values": [{}]}, "mark": {"type": "rule", "color": "#333333", "strokeWidth": 1}, "encoding": {"x": {"datum": 2.101}, "y": {"datum": 3.51}, "x2": {"datum": 2.491}, "y2": {"datum": 3.382}}},
        {"data": {"values": [{}]}, "mark": {"type": "point", "shape": "triangle-up", "angle": 121, "filled": true, "size": 28, "color": "#333333", "opacity": 1}, "encoding": {"x": {"datum": 2.491}, "y": {"datum": 3.382}}}
      ]
    }
  ]
}
